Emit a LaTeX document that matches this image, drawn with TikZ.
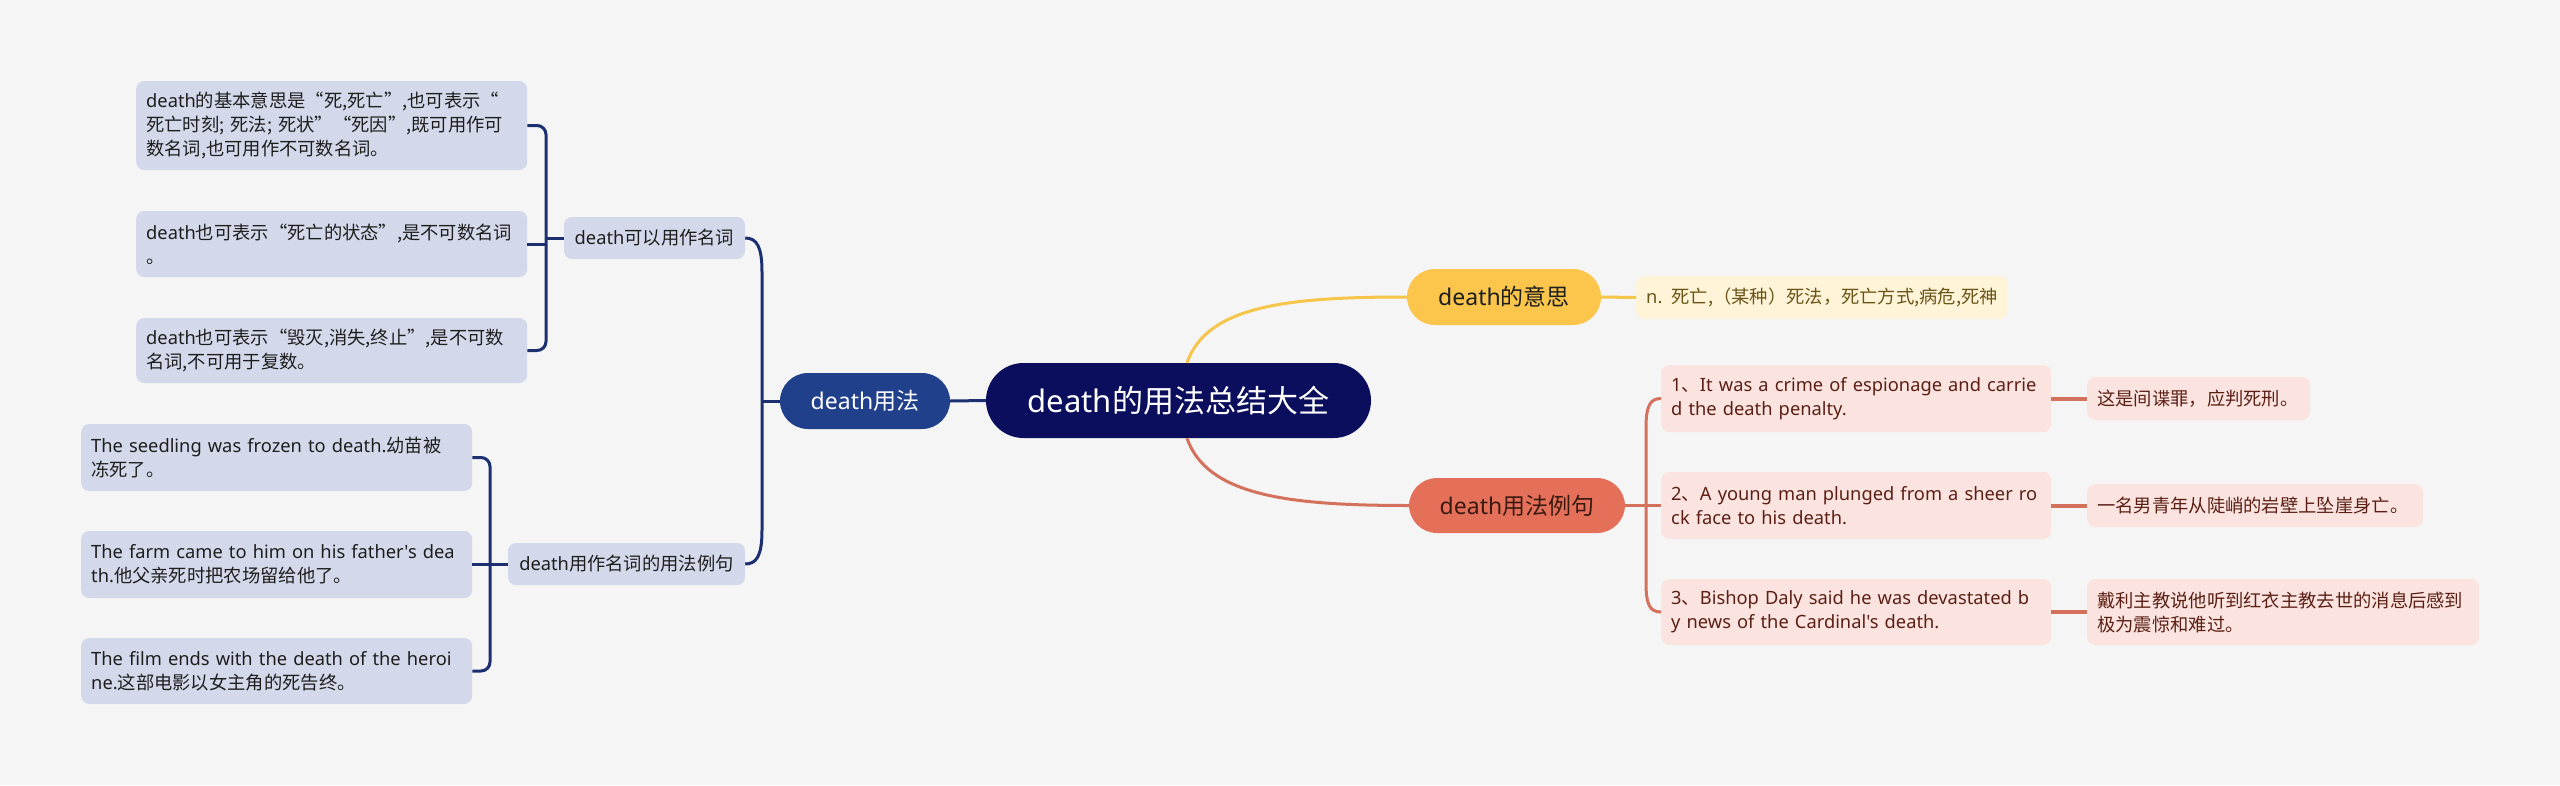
\documentclass[tikz,border=0pt]{standalone}
\usepackage{fontspec}
\setmainfont{Noto Sans CJK SC}
\newfontfamily\latfont{Noto Sans}
\newcommand\Lat[1]{{\latfont #1}}
\definecolor{bgcol}{HTML}{F5F5F5}
\definecolor{navy}{HTML}{0A0E5C}
\definecolor{midblue}{HTML}{21408C}
\definecolor{lineblue}{HTML}{1C2F70}
\definecolor{leafblue}{HTML}{D3D9EA}
\definecolor{txtdark}{HTML}{1E1E1E}
\definecolor{yfill}{HTML}{FBC64B}
\definecolor{yline}{HTML}{F6C64A}
\definecolor{cream}{HTML}{FFF4D8}
\definecolor{creamtxt}{HTML}{6A5418}
\definecolor{coral}{HTML}{E5705A}
\definecolor{coraltxt}{HTML}{3A1A10}
\definecolor{rline}{HTML}{D4715C}
\definecolor{pink}{HTML}{FBE4DF}
\definecolor{pinktxt}{HTML}{5B1F16}
\tikzset{
  smallfont/.style={font=\fontsize{18.3pt}{24pt}\selectfont},
  centralbox/.style={fill=navy, text=white, rounded corners=37.5pt, minimum width=385pt, minimum height=75pt, inner sep=0pt, font=\fontsize{31pt}{36pt}\selectfont},
  pill/.style={rounded corners=28pt, minimum height=56pt, inner sep=0pt, font=\fontsize{23pt}{28pt}\selectfont},
  lvltwo/.style={fill=leafblue, text=txtdark, rounded corners=8pt, minimum height=42pt, inner sep=0pt, smallfont},
  leafL/.style={fill=leafblue, text=txtdark, rounded corners=8pt, align=left, inner xsep=10pt, inner ysep=0pt, anchor=west, text width=371pt, smallfont},
  leafR/.style={fill=pink, text=pinktxt, rounded corners=8pt, align=left, inner xsep=10pt, inner ysep=0pt, anchor=west, smallfont},
  blueline/.style={draw=lineblue, line width=3pt},
  ycon/.style={draw=yline, line width=3pt},
  rcon/.style={draw=rline, line width=3pt},
  rstub/.style={draw=rline, line width=4pt},
}
\begin{document}
\begin{tikzpicture}[x=1pt,y=-1pt]
\fill[bgcol] (0,0) rectangle (2560,785);
\useasboundingbox (0,0) rectangle (2560,785);

% central
\node[centralbox] (c) at (1178.5,400.5) {\Lat{death}的用法总结大全};

% left branch
\node[pill, fill=midblue, text=white, minimum width=170pt] (dyf) at (865,401) {\Lat{death}用法};
\node[lvltwo, minimum width=181pt] (n1) at (654.5,238) {\Lat{death}可以用作名词};
\node[lvltwo, minimum width=237pt] (n2) at (626.5,564) {\Lat{death}用作名词的用法例句};

\node[leafL, minimum height=89pt] (l1) at (136,125.5) {\Lat{death}的基本意思是“死,死亡”,也可表示“\\死亡时刻; 死法; 死状”“死因”,既可用作可\\数名词,也可用作不可数名词。};
\node[leafL, minimum height=66pt] (l2) at (136,244) {\Lat{death}也可表示“死亡的状态”,是不可数名词\\。};
\node[leafL, minimum height=65pt] (l3) at (136,350.5) {\Lat{death}也可表示“毁灭,消失,终止”,是不可数\\名词,不可用于复数。};

\node[leafL, minimum height=67pt] (la) at (81,457.5) {\Lat{The seedling was frozen to death.}幼苗被\\冻死了。};
\node[leafL, minimum height=67pt] (lb) at (81,564.5) {\Lat{The farm came to him on his father's dea}\\\Lat{th.}他父亲死时把农场留给他了。};
\node[leafL, minimum height=66pt] (lc) at (81,671) {\Lat{The film ends with the death of the heroi}\\\Lat{ne.}这部电影以女主角的死告终。};

% right branch
\node[pill, fill=yfill, text=txtdark, minimum width=194pt] (mean) at (1504,297) {\Lat{death}的意思};
\node[fill=cream, text=creamtxt, rounded corners=8pt, align=left, inner xsep=10pt, inner ysep=0pt, anchor=west, text width=351pt, minimum height=43pt, smallfont] (nm) at (1636,297.5) {\mbox{\Lat{n.} 死亡,（某种）死法，死亡方式,病危,死神}};

\node[pill, fill=coral, text=coraltxt, minimum width=216pt, minimum height=55pt] (use) at (1517,505.5) {\Lat{death}用法例句};

\node[leafR, text width=370pt, minimum height=67pt] (ex1) at (1661,398.5) {\Lat{1}、\Lat{It was a crime of espionage and carrie}\\\Lat{d the death penalty.}};
\node[leafR, text width=370pt, minimum height=67pt] (ex2) at (1661,505.5) {\Lat{2}、\Lat{A young man plunged from a sheer ro}\\\Lat{ck face to his death.}};
\node[leafR, text width=370pt, minimum height=66pt] (ex3) at (1661,612) {\Lat{3}、\Lat{Bishop Daly said he was devastated b}\\\Lat{y news of the Cardinal's death.}};

\node[leafR, text width=203pt, minimum height=43pt] (ta) at (2087,398.5) {\mbox{这是间谍罪，应判死刑。}};
\node[leafR, text width=316pt, minimum height=43pt] (tb) at (2087,505.5) {\mbox{一名男青年从陡峭的岩壁上坠崖身亡。}};
\node[leafR, text width=372pt, minimum height=66pt] (tc) at (2087,612) {戴利主教说他听到红衣主教去世的消息后感到\\极为震惊和难过。};

% connectors left
\draw[blueline] (c.west) -- (dyf.east);
\coordinate (bkA) at (762,401);
\draw[blueline] (dyf.west) -- (bkA);
\draw[blueline] (bkA) -- (762,272) .. controls (762,247) and (757,238) .. (n1.east);
\draw[blueline] (bkA) -- (762,530) .. controls (762,555) and (757,564) .. (n2.east);

\coordinate (bkB) at (546,238);
\draw[blueline] (n1.west) -- (bkB);
\draw[blueline, rounded corners=9pt] (l1.east) -| (bkB) |- (l3.east);
\draw[blueline] (l2.east) -- (l2.east -| bkB);

\coordinate (bkC) at (490,564);
\draw[blueline] (n2.west) -- (bkC);
\draw[blueline, rounded corners=9pt] (la.east) -| (bkC) |- (lc.east);
\draw[blueline] (lb.east) -- (lb.east -| bkC);

% connectors right
\draw[ycon] ([xshift=8.5pt]c.north) .. controls (1207,305) and (1290,297) .. (mean.west);
\draw[ycon] (mean.east) -- (nm.west);

\draw[rcon] ([xshift=8.5pt]c.south) .. controls (1207,496) and (1290,505.5) .. (use.west);
\coordinate (bkD) at (1646,505.5);
\draw[rcon] (use.east) -- (bkD);
\draw[rcon] (bkD) -- (1646,428) .. controls (1646,406) and (1650,398.5) .. (ex1.west);
\draw[rcon] (bkD) -- (1646,583) .. controls (1646,605) and (1650,612) .. (ex3.west);
\draw[rcon] (bkD) -- (ex2.west);

\draw[rstub] (ex1.east) -- (ta.west);
\draw[rstub] (ex2.east) -- (tb.west);
\draw[rstub] (ex3.east) -- (tc.west);
\end{tikzpicture}
\end{document}
